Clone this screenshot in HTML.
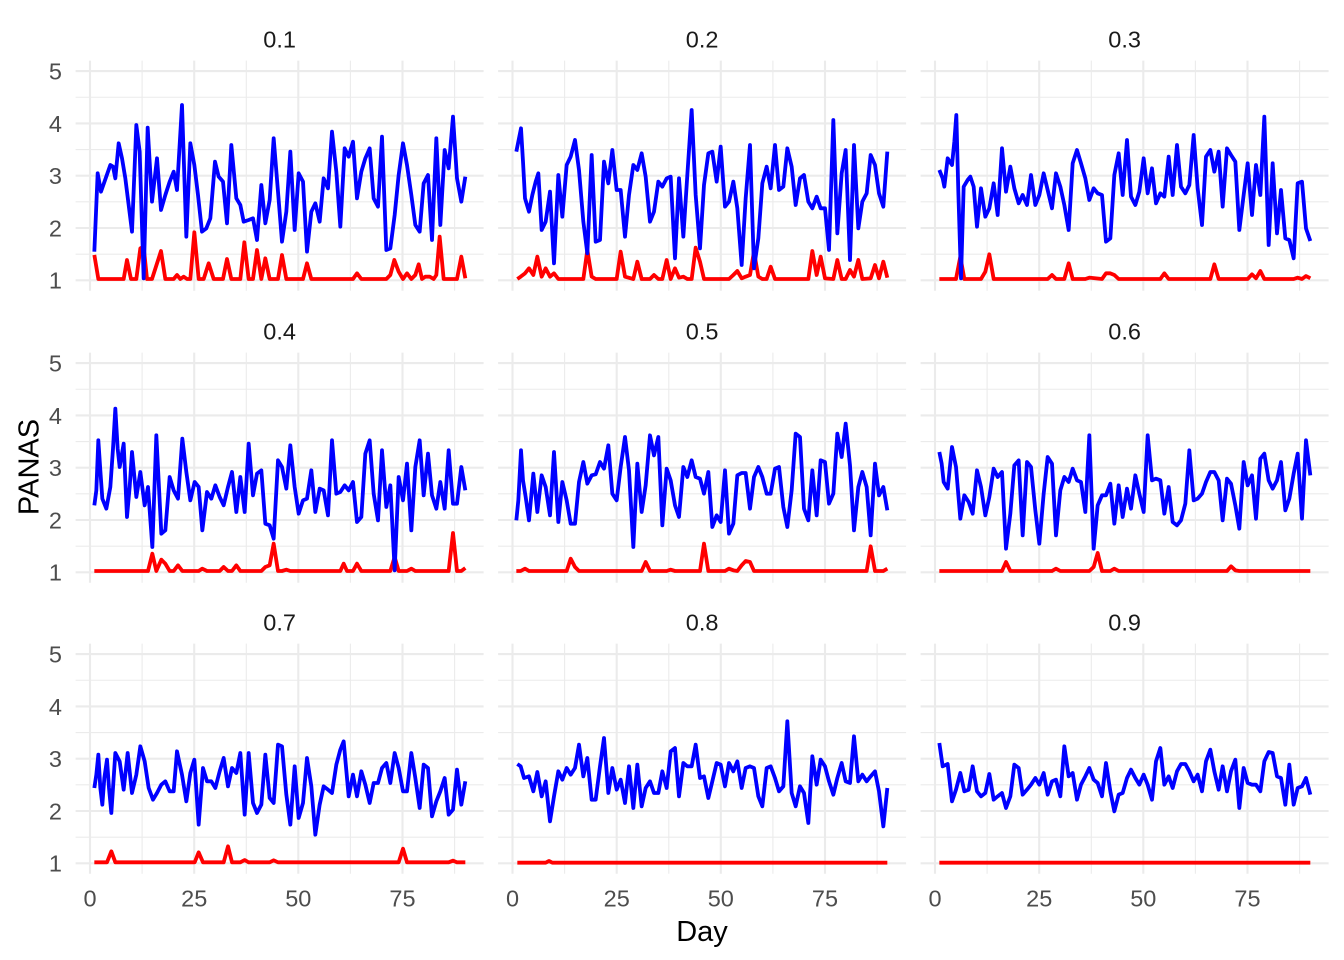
<!DOCTYPE html>
<html><head><meta charset="utf-8"><style>
html,body{margin:0;padding:0;background:#fff;}
svg{display:block;}
text{font-family:"Liberation Sans",Arial,sans-serif;}
</style></head><body>
<svg width="1344" height="960" viewBox="0 0 1344 960" xmlns="http://www.w3.org/2000/svg">
<defs>
<g id="grid" stroke="#EBEBEB" fill="none">
<g stroke-width="1.1">
<line x1="52.1" y1="-219.7" x2="52.1" y2="10.5"/>
<line x1="156.3" y1="-219.7" x2="156.3" y2="10.5"/>
<line x1="260.4" y1="-219.7" x2="260.4" y2="10.5"/>
<line x1="364.6" y1="-219.7" x2="364.6" y2="10.5"/>
<line x1="-14.4" y1="-26.15" x2="393.6" y2="-26.15"/>
<line x1="-14.4" y1="-78.45" x2="393.6" y2="-78.45"/>
<line x1="-14.4" y1="-130.75" x2="393.6" y2="-130.75"/>
<line x1="-14.4" y1="-183.05" x2="393.6" y2="-183.05"/>
</g>
<g stroke-width="2.1">
<line x1="0" y1="-219.7" x2="0" y2="10.5"/>
<line x1="104.2" y1="-219.7" x2="104.2" y2="10.5"/>
<line x1="208.3" y1="-219.7" x2="208.3" y2="10.5"/>
<line x1="312.5" y1="-219.7" x2="312.5" y2="10.5"/>
<line x1="-14.4" y1="0" x2="393.6" y2="0"/>
<line x1="-14.4" y1="-52.3" x2="393.6" y2="-52.3"/>
<line x1="-14.4" y1="-104.6" x2="393.6" y2="-104.6"/>
<line x1="-14.4" y1="-156.9" x2="393.6" y2="-156.9"/>
<line x1="-14.4" y1="-209.2" x2="393.6" y2="-209.2"/>
</g>
</g>
</defs>

<!-- grids -->
<use href="#grid" transform="translate(90,280.3)"/>
<use href="#grid" transform="translate(512.5,280.3)"/>
<use href="#grid" transform="translate(935,280.3)"/>
<use href="#grid" transform="translate(90,572.3)"/>
<use href="#grid" transform="translate(512.5,572.3)"/>
<use href="#grid" transform="translate(935,572.3)"/>
<use href="#grid" transform="translate(90,863.3)"/>
<use href="#grid" transform="translate(512.5,863.3)"/>
<use href="#grid" transform="translate(935,863.3)"/>

<g fill="none" stroke-width="11.4" stroke-linejoin="round">
<!-- Panel 1 -->
<g transform="translate(77,95) scale(0.33333)">
<polyline stroke="#FF0000" points="52,480 64,552 140,552 150,495 162,552 178,552 190,460 200,455 210,552 225,552 252,468 265,552 290,552 300,540 310,552 320,545 330,552 340,552 352,412 365,552 380,552 395,505 410,552 438,552 450,492 463,552 490,552 502,442 515,552 528,552 540,465 553,552 565,490 578,552 603,552 615,480 628,552 678,552 690,505 703,552 828,552 840,535 853,552 928,552 940,540 952,495 965,530 978,552 990,535 1003,552 1015,540 1025,508 1035,552 1045,545 1058,545 1070,552 1078,540 1088,425 1100,552 1140,552 1153,485 1165,550"/>
<polyline stroke="#0000FF" points="52,470 62,235 72,290 100,210 108,215 115,250 125,145 135,190 145,250 155,330 165,410 178,90 188,170 200,550 212,98 225,320 240,190 252,345 265,300 278,260 290,230 300,285 315,30 328,425 340,145 352,210 363,300 375,410 388,400 400,370 414,200 425,245 438,260 450,385 463,150 478,310 490,330 500,380 515,375 528,370 540,435 553,270 565,385 578,315 590,130 603,290 615,440 628,350 640,170 653,405 665,235 678,260 690,470 703,350 715,325 728,380 740,250 753,280 765,110 778,230 790,395 803,160 815,185 828,140 840,310 853,230 865,190 878,160 890,310 903,335 915,125 928,465 940,460 953,360 965,240 978,145 990,210 1003,300 1015,390 1028,410 1040,265 1053,240 1065,435 1078,130 1090,390 1103,165 1115,220 1128,65 1140,250 1153,320 1165,245"/>
</g>
<!-- Panel 2 -->
<g transform="translate(499,95) scale(0.33333)">
<polyline stroke="#FF0000" points="55,552 65,545 78,535 90,520 103,540 115,485 128,545 140,520 153,545 165,535 178,552 253,552 265,465 278,545 290,552 353,552 365,470 378,545 403,552 415,500 428,552 453,552 465,540 478,552 490,552 503,495 515,552 528,520 540,548 553,545 565,552 578,552 590,458 603,500 615,552 690,552 703,540 715,528 728,550 740,545 753,540 765,470 778,545 790,552 803,552 815,515 828,552 928,552 940,468 953,540 965,485 978,550 1003,552 1015,495 1028,552 1040,552 1053,525 1065,545 1078,495 1090,552 1115,550 1128,510 1140,550 1153,500 1165,548"/>
<polyline stroke="#0000FF" points="52,170 58,140 66,100 72,200 78,310 90,350 100,300 110,260 118,235 128,405 140,380 153,290 165,505 178,240 190,365 203,210 215,185 228,135 240,225 253,380 265,475 278,180 290,440 303,435 315,200 328,265 340,165 353,285 365,285 378,425 390,300 403,210 415,225 428,175 440,245 453,380 465,350 478,260 490,275 503,250 515,245 528,490 540,250 553,425 565,240 578,45 590,300 603,460 615,270 628,175 640,170 653,260 665,155 678,335 690,320 703,260 715,340 728,510 740,310 753,150 765,520 778,430 790,265 803,215 815,280 828,150 840,285 853,275 865,160 878,215 890,330 903,250 915,240 928,320 940,340 953,305 965,340 978,340 990,465 1003,75 1015,415 1028,235 1040,165 1053,495 1065,150 1078,400 1090,320 1103,295 1115,180 1128,210 1140,295 1153,335 1165,170"/>
</g>
<!-- Panel 3 -->
<g transform="translate(921,95) scale(0.33333)">
<polyline stroke="#FF0000" points="55,552 105,552 118,485 130,552 180,552 193,530 205,478 218,552 380,552 393,540 405,552 430,552 443,505 455,552 493,552 505,548 543,552 555,535 568,535 580,540 593,552 718,552 730,535 743,552 868,552 880,508 893,552 980,552 993,538 1005,550 1018,528 1030,552 1118,552 1130,548 1143,552 1155,543 1168,550"/>
<polyline stroke="#0000FF" points="55,225 65,250 70,275 80,190 93,210 100,140 106,60 112,290 120,550 128,275 140,255 148,245 158,275 168,395 180,280 193,365 205,340 218,265 230,360 243,160 255,290 268,215 280,280 293,325 305,300 318,330 330,240 343,330 355,300 368,235 380,285 393,340 405,235 418,275 430,330 443,405 455,205 468,165 480,205 493,250 505,315 518,280 530,295 543,300 555,440 568,430 580,240 593,175 605,300 618,135 630,305 643,330 655,290 668,190 680,295 693,220 705,325 718,295 730,305 743,185 755,300 768,150 780,275 793,295 805,270 818,120 830,280 843,390 855,185 868,165 880,230 893,170 905,335 918,160 930,180 943,200 955,405 968,300 980,205 993,360 1005,210 1018,300 1030,65 1043,450 1055,205 1068,415 1080,285 1093,430 1105,435 1118,490 1130,265 1143,260 1155,400 1168,438"/>
</g>
<!-- Panel 4 -->
<g transform="translate(77,387) scale(0.33333)">
<polyline stroke="#FF0000" points="52,552 213,552 226,500 238,552 253,518 265,530 278,552 290,552 303,535 316,552 365,552 376,545 390,552 428,552 440,540 453,552 465,552 478,535 490,552 553,552 565,540 578,535 590,470 603,552 615,552 628,548 640,552 790,552 800,530 810,552 828,552 840,530 853,552 940,552 953,510 965,552 990,552 1003,545 1015,552 1115,552 1128,438 1140,552 1153,552 1165,543"/>
<polyline stroke="#0000FF" points="52,355 58,310 64,160 70,250 76,335 88,365 100,300 108,185 115,65 122,185 128,240 140,170 150,390 158,300 165,195 178,330 190,255 203,355 213,300 226,480 238,145 253,440 265,430 278,270 290,310 303,335 316,155 328,255 340,340 353,285 365,300 376,430 390,315 403,335 415,295 428,330 440,355 453,300 465,255 478,375 490,270 503,375 515,170 528,325 540,260 553,250 565,410 578,415 590,455 603,220 615,240 628,305 640,175 653,300 665,380 678,340 690,335 703,250 715,375 728,305 740,310 753,385 765,160 778,320 790,315 803,295 815,310 828,285 840,405 853,390 865,200 878,160 890,320 903,400 915,190 928,360 940,295 953,550 965,270 978,340 990,230 1003,430 1015,240 1028,160 1040,325 1053,200 1065,325 1078,365 1090,285 1103,365 1115,190 1128,350 1140,350 1153,240 1165,310"/>
</g>
<!-- Panel 5 -->
<g transform="translate(499,387) scale(0.33333)">
<polyline stroke="#FF0000" points="52,552 65,552 78,545 90,552 203,552 215,515 228,540 240,552 428,552 440,525 453,552 503,552 515,548 528,552 603,552 615,470 628,552 678,552 690,545 703,550 715,552 728,535 740,522 753,525 765,552 1103,552 1115,478 1128,552 1153,552 1165,545"/>
<polyline stroke="#0000FF" points="52,400 58,340 66,190 72,280 80,330 90,400 103,260 115,375 128,265 140,300 153,385 165,195 178,405 190,285 203,340 215,410 228,410 240,285 253,225 265,290 278,265 290,262 303,225 315,245 328,175 340,320 353,340 365,240 378,150 390,250 403,480 415,230 428,375 440,295 453,145 465,205 478,150 490,415 503,245 515,280 528,355 540,390 553,240 565,270 578,220 590,270 603,275 615,320 628,255 640,420 653,385 665,405 678,250 690,440 703,410 715,265 728,258 740,258 753,365 765,270 778,240 790,270 803,320 815,320 828,245 840,240 853,360 865,420 878,310 890,140 903,150 915,365 928,400 940,250 953,385 965,220 978,225 990,350 1003,320 1015,140 1028,210 1040,110 1053,235 1065,430 1078,300 1090,255 1103,300 1115,445 1128,230 1140,325 1153,300 1165,370"/>
</g>
<!-- Panel 6 -->
<g transform="translate(921,387) scale(0.33333)">
<polyline stroke="#FF0000" points="55,552 243,552 255,525 268,552 393,552 405,545 418,552 505,552 518,540 530,498 543,552 568,552 580,545 593,552 918,552 930,538 943,550 955,552 1168,552"/>
<polyline stroke="#0000FF" points="55,195 62,230 68,285 80,305 93,180 105,240 118,395 130,325 143,345 155,380 168,250 180,300 193,385 205,330 218,245 230,270 243,255 255,485 268,380 280,235 293,220 305,445 318,225 330,240 343,370 355,470 368,320 380,210 393,230 405,445 418,310 430,270 443,285 455,245 468,280 480,285 493,375 505,145 518,485 530,355 543,325 555,325 568,290 580,410 593,295 605,390 618,305 630,365 643,265 655,320 668,375 680,145 693,280 705,275 718,280 730,380 743,300 755,405 768,415 780,400 793,350 805,190 818,340 830,335 843,320 855,285 868,255 880,255 893,280 905,400 918,275 930,290 943,355 955,425 968,225 980,295 993,265 1005,395 1018,215 1030,200 1043,280 1055,305 1068,280 1080,225 1093,370 1105,335 1118,260 1130,200 1143,395 1155,160 1168,265"/>
</g>
<!-- Panel 7 -->
<g transform="translate(77,678) scale(0.33333)">
<polyline stroke="#FF0000" points="52,553 90,553 103,520 115,553 353,553 365,523 378,553 440,553 453,505 465,553 490,553 503,546 515,553 578,553 590,547 603,553 965,553 978,512 990,553 1115,553 1128,548 1140,553 1165,553"/>
<polyline stroke="#0000FF" points="52,330 58,290 64,230 70,330 76,380 82,300 90,245 96,330 103,405 115,225 128,250 140,335 152,225 165,345 178,290 190,205 203,250 215,330 228,365 240,345 253,320 265,310 278,340 290,340 300,220 315,290 328,370 340,285 352,245 365,440 378,270 390,310 403,310 415,330 428,280 440,240 453,325 465,270 478,285 490,225 503,410 515,225 528,375 540,405 553,380 565,230 578,360 590,375 603,200 615,205 628,350 640,440 653,265 665,420 678,375 690,240 703,325 715,470 728,380 740,325 753,335 765,345 778,260 790,215 800,190 815,355 828,290 840,355 853,280 865,320 878,375 890,315 903,315 915,270 928,255 940,315 953,225 965,270 978,340 990,340 1003,225 1015,300 1028,390 1040,260 1053,270 1065,415 1078,370 1090,340 1103,300 1115,410 1128,395 1140,275 1153,380 1165,310"/>
</g>
<!-- Panel 8 -->
<g transform="translate(499,678) scale(0.33333)">
<polyline stroke="#FF0000" points="55,554 140,554 150,549 160,554 1165,554"/>
<polyline stroke="#0000FF" points="55,258 65,265 75,300 90,295 103,340 115,282 128,355 140,310 153,430 165,355 178,280 190,305 203,270 215,290 228,270 240,200 253,295 265,240 278,365 290,365 303,265 315,180 328,345 340,270 353,335 365,305 378,375 390,265 403,390 415,260 428,385 440,330 453,310 465,345 478,345 490,280 503,330 515,220 528,210 540,355 553,255 565,265 578,265 590,200 603,300 615,295 628,360 640,310 653,255 665,260 678,325 690,255 703,280 715,250 728,330 740,270 753,265 765,270 778,355 790,385 803,270 815,265 828,300 840,340 853,325 865,130 878,345 890,385 903,325 915,345 928,435 940,235 953,320 965,245 978,265 990,310 1003,350 1015,300 1028,255 1040,310 1053,315 1065,175 1078,310 1090,290 1103,310 1115,295 1128,280 1140,340 1153,445 1165,330"/>
</g>
<!-- Panel 9 -->
<g transform="translate(921,678) scale(0.33333)">
<polyline stroke="#FF0000" points="55,554 1168,554"/>
<polyline stroke="#0000FF" points="55,195 65,265 80,258 93,370 105,335 118,285 130,340 143,335 155,265 168,340 180,355 193,345 205,288 218,365 230,355 243,345 255,390 268,355 280,260 293,270 305,350 318,335 330,320 343,300 355,320 368,285 380,350 393,310 405,305 418,355 430,205 443,295 455,285 468,365 480,320 493,295 505,270 518,305 530,315 543,355 555,255 568,340 580,400 593,350 605,345 618,300 630,275 643,300 655,320 668,290 680,320 693,365 705,250 718,210 730,320 743,295 755,330 768,280 780,258 793,258 805,280 818,310 830,290 843,340 855,250 868,215 880,280 893,335 905,265 918,340 930,280 943,245 955,390 968,270 980,315 993,320 1005,320 1018,340 1030,250 1043,222 1055,225 1068,295 1080,300 1093,380 1105,260 1118,380 1130,330 1143,325 1155,300 1168,350"/>
</g>
</g>

<!-- strip titles -->
<g font-size="23.5" fill="#1A1A1A" text-anchor="middle">
<text x="279.6" y="47.4">0.1</text>
<text x="702.1" y="47.4">0.2</text>
<text x="1124.6" y="47.4">0.3</text>
<text x="279.6" y="339.4">0.4</text>
<text x="702.1" y="339.4">0.5</text>
<text x="1124.6" y="339.4">0.6</text>
<text x="279.6" y="630.4">0.7</text>
<text x="702.1" y="630.4">0.8</text>
<text x="1124.6" y="630.4">0.9</text>
</g>

<!-- y tick labels -->
<g font-size="23.5" fill="#4D4D4D" text-anchor="end">
<text x="62" y="79.5">5</text>
<text x="62" y="131.8">4</text>
<text x="62" y="184.1">3</text>
<text x="62" y="236.4">2</text>
<text x="62" y="288.7">1</text>
<text x="62" y="371.5">5</text>
<text x="62" y="423.8">4</text>
<text x="62" y="476.1">3</text>
<text x="62" y="528.4">2</text>
<text x="62" y="580.7">1</text>
<text x="62" y="662.5">5</text>
<text x="62" y="714.8">4</text>
<text x="62" y="767.1">3</text>
<text x="62" y="819.4">2</text>
<text x="62" y="871.7">1</text>
</g>

<!-- x tick labels -->
<g font-size="23.5" fill="#4D4D4D" text-anchor="middle">
<text x="90" y="906.5">0</text>
<text x="194.2" y="906.5">25</text>
<text x="298.3" y="906.5">50</text>
<text x="402.5" y="906.5">75</text>
<text x="512.5" y="906.5">0</text>
<text x="616.7" y="906.5">25</text>
<text x="720.8" y="906.5">50</text>
<text x="825" y="906.5">75</text>
<text x="935" y="906.5">0</text>
<text x="1039.2" y="906.5">25</text>
<text x="1143.3" y="906.5">50</text>
<text x="1247.5" y="906.5">75</text>
</g>

<!-- axis titles -->
<text x="702" y="941" font-size="29" fill="#000" text-anchor="middle">Day</text>
<text transform="translate(38.5,467) rotate(-90)" font-size="29" fill="#000" text-anchor="middle">PANAS</text>
</svg>
</body></html>
